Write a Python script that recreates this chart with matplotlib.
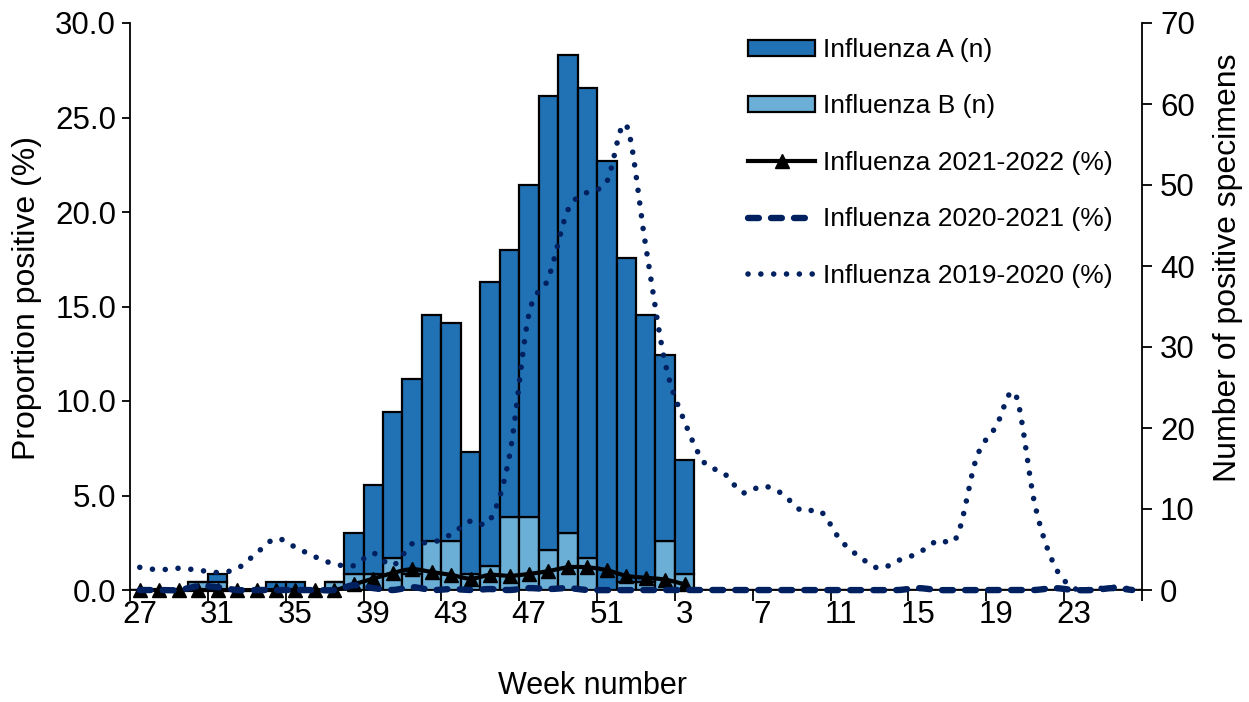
import numpy as np
import matplotlib
matplotlib.use("Agg")
import matplotlib.pyplot as plt
from matplotlib.patches import Patch
from matplotlib.lines import Line2D

plt.rcParams["font.family"] = ["Liberation Sans", "DejaVu Sans"]

# -------------------------------------------------------------------
# DATA
# -------------------------------------------------------------------
weeks = list(range(27, 53)) + list(range(1, 27))

# number of positive specimens (right axis)
flu_a = [0, 0, 0, 0, 1, 0, 0, 1, 1, 0, 0, 5, 11, 18, 24, 28, 27, 15, 35, 33,
         41, 56, 59, 58, 53, 40, 33, 23, 14, 0, 0, 0, 0, 0, 0, 0, 0, 0, 0, 0,
         0, 0, 0, 0, 0, 0, 0, 0, 0, 0, 0, 0]
flu_b = [0, 0, 0, 1, 1, 0, 0, 0, 0, 0, 1, 2, 2, 4, 2, 6, 6, 2, 3, 9,
         9, 5, 7, 4, 0, 1, 1, 6, 2, 0, 0, 0, 0, 0, 0, 0, 0, 0, 0, 0,
         0, 0, 0, 0, 0, 0, 0, 0, 0, 0, 0, 0]

# proportion positive (left axis)
pct_2122 = [0, 0, 0, 0, 0, 0, 0, 0, 0, 0, 0, 0.3, 0.6, 0.9, 1.1, 0.95, 0.8,
            0.6, 0.8, 0.75, 0.85, 1.0, 1.2, 1.2, 1.05, 0.75, 0.65, 0.55, 0.3]
pct_2021 = [0, 0, 0, 0.2, 0.15, 0, 0, 0, 0, 0, 0, 0.25, 0.1, 0, 0.15, 0, 0.05,
            0, 0.05, 0, 0.1, 0.05, 0.1, 0, 0, 0, 0, 0, 0, 0, 0, 0, 0, 0, 0, 0,
            0, 0, 0, 0, 0.1, 0, 0, 0, 0, 0, 0, 0.1, 0, 0, 0.1, 0]
pct_1920 = [1.2, 1.07, 1.15, 1.05, 0.93, 1.13, 1.95, 2.72, 2.26, 1.76, 1.38,
            1.29, 1.94, 1.3, 2.45, 2.5, 2.95, 3.65, 3.7, 7.1, 14.6, 16.5, 20.1,
            21.05, 21.6, 24.6, 18.2, 12.0, 8.9, 6.75, 6.2, 5.15, 5.5, 5.1, 4.2,
            4.15, 2.65, 1.75, 1.15, 1.57, 1.95, 2.62, 2.85, 7.0, 8.65, 10.35,
            4.5, 1.3, 0.1, 0.05, 0.15, 0.05]

COL_A = "#2171b5"
COL_B = "#6baed6"
NAVY = "#002060"


def smooth(xv, yv, n=16):
    # Excel-style smoothed line: Catmull-Rom segments as cubic Bezier
    P = np.column_stack([np.asarray(xv, float), np.asarray(yv, float)])
    t = np.linspace(0, 1, n)[1:, None]
    out = [P[0]]
    for k in range(len(P) - 1):
        p0 = P[max(k - 1, 0)]
        p1 = P[k]
        p2 = P[k + 1]
        p3 = P[min(k + 2, len(P) - 1)]
        c1 = p1 + (p2 - p0) / 6
        c2 = p2 - (p3 - p1) / 6
        seg = ((1 - t) ** 3 * p1 + 3 * (1 - t) ** 2 * t * c1
               + 3 * (1 - t) * t ** 2 * c2 + t ** 3 * p2)
        out.extend(seg)
    out = np.array(out)
    return out[:, 0], out[:, 1]


# -------------------------------------------------------------------
# PLOT
# -------------------------------------------------------------------
W, H = 1249, 702
fig = plt.figure(figsize=(W / 100, H / 100), dpi=100)
ax = fig.add_axes([130 / W, 1 - 590 / H, (1142 - 130) / W, (590 - 23) / H])
ax2 = ax.twinx()
ax.set_zorder(ax2.get_zorder() + 1)
ax.patch.set_visible(False)

x = np.arange(len(weeks))

# stacked bars on the right axis
ax2.bar(x, flu_b, width=1.0, color=COL_B, edgecolor="black", linewidth=1.6)
ax2.bar(x, flu_a, bottom=flu_b, width=1.0, color=COL_A, edgecolor="black",
        linewidth=1.6)

# lines on the left axis
DASH = (0, (1.7, 1.9))
DOT = (0, (0.01, 2.3))

xs, ys = smooth(x[:len(pct_2122)], pct_2122)
ax.plot(xs, ys, color="black", lw=3, clip_on=False, zorder=3)
ax.plot(x[:len(pct_2122)], pct_2122, ls="none", marker="^", ms=9.5,
        color="black", clip_on=False, zorder=3)

xs, ys = smooth(x, pct_2021)
ax.plot(xs, ys, color=NAVY, lw=4.6, ls=DASH,
        dash_capstyle="round", clip_on=False, zorder=4)

xs, ys = smooth(x, pct_1920)
ax.plot(xs, ys, color=NAVY, lw=4.0, ls=DOT,
        dash_capstyle="round", clip_on=False, zorder=5)

# axes
ax.set_xlim(-0.5, len(weeks) - 0.5)
ax.set_ylim(0, 30)
ax2.set_ylim(0, 70)

ax.set_yticks(np.arange(0, 31, 5))
ax.set_yticklabels([f"{v:.1f}" for v in np.arange(0, 31, 5)])
ax2.set_yticks(np.arange(0, 71, 10))

ax.set_xticks(np.arange(-0.5, len(weeks), 4))
ax.set_xticklabels([])
ax.set_xticks(x[::4], labels=[str(w) for w in weeks[::4]], minor=True)

for s in ["top", "right"]:
    ax.spines[s].set_visible(False)
for s in ["top", "left", "bottom"]:
    ax2.spines[s].set_visible(False)
for s in ["left", "bottom"]:
    ax.spines[s].set_linewidth(1.3)
ax2.spines["right"].set_linewidth(1.3)

ax.tick_params(axis="y", labelsize=22.5, length=6, width=1.3, pad=4)
ax2.tick_params(axis="y", labelsize=22.5, length=7, width=1.3, pad=6)
ax.tick_params(axis="x", which="major", length=8, width=1.3)
ax.tick_params(axis="x", which="minor", length=0, labelsize=22.5, pad=7)

fig.text(27 / W, 1 - 298 / H, "Proportion positive (%)", rotation=90,
         ha="center", va="center", fontsize=23)
fig.text(1228 / W, 1 - 268 / H, "Number of positive specimens", rotation=90,
         ha="center", va="center", fontsize=23)
fig.text(593 / W, 1 - 686 / H, "Week number", ha="center", va="center",
         fontsize=22)

handles = [
    Patch(facecolor=COL_A, edgecolor="black", linewidth=1.6),
    Patch(facecolor=COL_B, edgecolor="black", linewidth=1.6),
    Line2D([], [], color="black", lw=3, marker="^", ms=9.5),
    Line2D([], [], color=NAVY, lw=4.6, ls=DASH, dash_capstyle="round"),
    Line2D([], [], color=NAVY, lw=4.0, ls=DOT, dash_capstyle="round"),
]
labels = ["Influenza A (n)", "Influenza B (n)", "Influenza 2021-2022 (%)",
          "Influenza 2020-2021 (%)", "Influenza 2019-2020 (%)"]
fig.legend(handles, labels, loc="upper left",
           bbox_to_anchor=(748 / W, 1 - 38 / H), frameon=False,
           fontsize=19, handlelength=2.55, handleheight=0.55,
           handletextpad=0.3, labelspacing=1.23, borderpad=0,
           borderaxespad=0)

fig.savefig("out.png", dpi=100)
